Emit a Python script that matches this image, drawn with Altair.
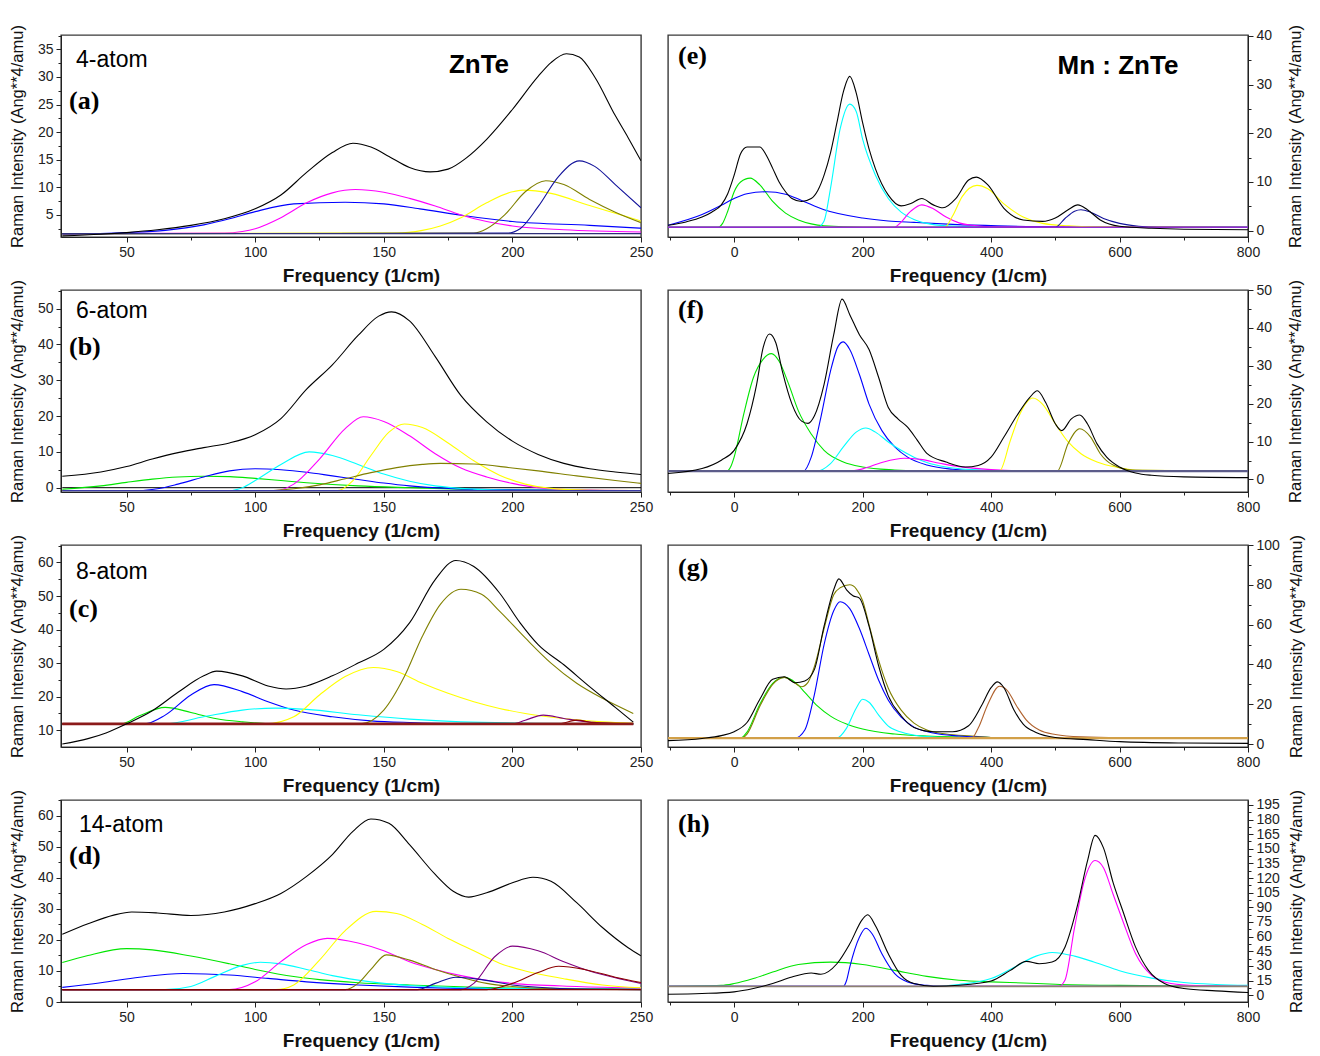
import altair as alt
import pandas as pd

# ---------------- data ----------------
# (a) ZnTe 4-atom
A_SUM = [(25,1.2),(40,1.5),(50,1.8),(62,2.3),(75,3.1),(88,4.3),(100,6.1),(110,8.6),(120,12.7),(130,16.3),(138,18.0),(145,17.3),(152,15.6),(160,13.6),(168,12.8),(175,13.3),(182,15.3),(190,18.7),(200,24.1),(210,30.1),(215,32.6),(221,34.2),(226,33.6),(232,30.0),(240,23.0),(245,19.0),(250,14.8)]
A_BLUE = [(25,1.5),(50,1.8),(65,2.2),(80,3.2),(90,4.3),(100,5.6),(115,7.0),(135,7.3),(150,7.0),(164,6.1),(181,4.9),(200,3.8),(230,3.1),(250,2.6)]
A_MAGENTA = [(25,1.6),(88,1.7),(95,2.0),(100,2.5),(110,4.5),(120,7.2),(130,9.0),(139,9.6),(150,9.1),(160,8.0),(170,6.6),(180,5.0),(190,3.8),(200,3.0),(220,2.3),(250,1.9)]
A_YELLOW = [(25,1.6),(155,1.7),(165,2.2),(172,3.0),(180,4.5),(190,7.2),(200,9.2),(204,9.5),(215,8.9),(230,6.7),(240,5.3),(250,3.9)]
A_OLIVE = [(25,1.6),(185,1.7),(190,2.5),(197,5.0),(205,9.2),(213,11.2),(220,10.5),(230,7.8),(240,5.5),(250,3.6)]
A_NAVY = [(25,1.6),(198,1.7),(203,2.5),(210,6.5),(218,12.0),(226,14.8),(232,13.8),(240,10.5),(250,6.3)]
A_BASE = [(25,1.6),(250,1.6)]

# (b) ZnTe 6-atom
B_SUM = [(25,3.2),(40,4.4),(50,5.9),(60,8.0),(70,9.8),(80,11.2),(90,12.5),(100,14.8),(110,19.3),(120,27.5),(130,34.3),(140,42.5),(148,47.9),(153,49.1),(160,46.6),(170,36.6),(180,25.7),(190,18.4),(200,13.0),(210,9.3),(220,6.8),(230,5.3),(240,4.4),(250,3.7)]
B_GREEN = [(25,-0.45),(40,0.5),(50,1.5),(60,2.4),(70,3.0),(80,3.2),(90,3.1),(100,2.6),(110,2.0),(120,1.4),(130,0.9),(140,0.5),(160,0.0),(180,-0.4),(220,-0.7),(250,-0.8)]
B_BLUE = [(25,-0.8),(55,-0.8),(62,-0.3),(70,1.0),(80,3.0),(90,4.7),(100,5.3),(110,5.0),(120,4.3),(130,3.3),(140,2.3),(150,1.3),(160,0.5),(175,-0.2),(200,-0.6),(250,-0.8)]
B_CYAN = [(25,-0.8),(90,-0.8),(95,0.0),(100,2.0),(110,6.5),(121,10.0),(130,9.0),(140,6.5),(150,3.8),(160,1.8),(170,0.5),(185,-0.4),(200,-0.7),(250,-0.8)]
B_MAGENTA = [(25,-0.8),(108,-0.8),(115,1.0),(125,8.0),(135,16.5),(142,19.8),(150,18.5),(160,14.5),(170,9.5),(180,5.5),(190,3.0),(200,1.2),(210,0.0),(225,-0.6),(250,-0.8)]
B_YELLOW = [(25,-0.8),(132,-0.8),(138,2.0),(145,9.0),(152,15.5),(158,17.8),(165,16.8),(175,12.5),(185,7.5),(195,3.5),(205,1.0),(215,-0.2),(230,-0.7),(250,-0.8)]
B_OLIVE = [(25,-0.8),(105,-0.8),(115,-0.3),(125,0.8),(135,2.5),(145,4.2),(155,5.6),(165,6.5),(172,6.8),(185,6.6),(200,5.5),(210,4.7),(225,3.3),(240,2.0),(250,1.2)]
B_BASE = [(25,-0.8),(250,-0.8)]
B_ZERO = [(25,0.0),(250,0.0)]

# (c) ZnTe 8-atom
C_SUM = [(25,5.9),(35,7.5),(42,9.2),(50,11.9),(60,15.8),(70,21.3),(80,26.2),(85,27.6),(95,26.2),(105,23.2),(112,22.3),(120,23.2),(130,26.2),(140,30.0),(150,34.1),(160,42.0),(170,54.9),(178,60.6),(185,58.8),(195,50.9),(203,42.0),(210,35.5),(220,29.5),(230,23.0),(240,16.8),(247,12.4)]
C_GREEN = [(25,11.9),(48,11.9),(55,14.3),(65,16.8),(75,15.3),(85,13.4),(95,12.5),(105,12.0),(247,11.9)]
C_BLUE = [(25,11.9),(57,11.9),(65,14.5),(75,20.5),(84,23.6),(95,21.5),(105,18.5),(115,16.0),(130,14.0),(145,12.8),(160,12.3),(180,12.0),(247,11.9)]
C_CYAN = [(25,11.9),(65,11.9),(80,14.0),(95,16.0),(108,16.6),(120,16.2),(140,14.6),(160,13.3),(180,12.5),(210,12.1),(247,11.9)]
C_YELLOW = [(25,11.9),(104,11.9),(115,14.0),(125,20.5),(135,26.0),(146,28.7),(155,27.5),(165,24.0),(175,21.0),(185,18.5),(195,16.5),(205,15.0),(220,13.5),(235,12.5),(247,12.1)]
C_OLIVE = [(25,11.9),(141,11.9),(150,16.0),(158,26.0),(165,38.0),(172,47.5),(180,52.0),(188,50.5),(195,45.5),(205,37.5),(215,30.0),(225,24.0),(235,19.5),(247,15.0)]
C_PURPLE = [(25,11.9),(200,11.9),(205,13.0),(212,14.5),(220,13.5),(230,12.4),(240,12.0),(247,11.9)]
C_MAROON = [(25,11.9),(218,11.9),(225,13.0),(232,12.2),(247,11.9)]
C_BASE = [(25,11.9),(247,11.9)]

# (d) ZnTe 14-atom
D_SUM = [(25,21.8),(35,25.2),(45,28.0),(52,29.0),(62,28.7),(75,27.9),(88,29.0),(100,31.7),(110,35.0),(120,40.5),(130,47.5),(138,55.0),(145,59.0),(152,57.6),(160,50.7),(170,41.1),(177,35.7),(183,33.8),(190,35.2),(200,38.4),(208,40.2),(215,38.9),(225,32.0),(235,24.0),(245,17.5),(250,14.9)]
D_GREEN = [(25,12.7),(35,15.0),(50,17.2),(60,16.8),(75,14.8),(90,12.3),(100,10.5),(115,8.2),(125,7.2),(140,6.2),(160,5.5),(180,4.9),(200,4.5),(250,4.2)]
D_BLUE = [(25,4.7),(40,6.2),(55,8.0),(72,9.2),(90,8.7),(105,7.6),(120,6.5),(140,5.5),(160,4.8),(180,4.4),(250,4.1)]
D_CYAN = [(25,4.0),(65,4.0),(75,5.0),(85,8.5),(95,11.8),(102,12.8),(110,12.3),(120,10.5),(130,8.5),(145,6.5),(160,5.3),(180,4.6),(200,4.3),(250,4.1)]
D_MAGENTA = [(25,4.0),(90,4.0),(100,6.5),(110,13.0),(120,18.5),(128,20.5),(140,19.0),(150,16.5),(160,13.0),(170,10.5),(180,8.5),(190,7.0),(200,6.0),(225,5.0),(250,4.5)]
D_YELLOW = [(25,4.0),(108,4.0),(115,5.5),(125,13.5),(135,23.0),(147,29.2),(155,28.5),(165,25.0),(175,20.5),(185,16.5),(195,12.5),(205,10.0),(220,7.5),(235,5.5),(250,4.6)]
D_OLIVE = [(25,4.0),(135,4.0),(140,6.0),(145,10.5),(151,15.2),(160,13.5),(170,10.5),(180,8.0),(190,6.0),(200,5.0),(215,4.3),(250,4.0)]
D_NAVY = [(25,4.0),(163,4.0),(170,6.0),(178,8.0),(188,7.2),(200,5.5),(215,4.5),(230,4.1),(250,4.0)]
D_PURPLE = [(25,4.0),(180,4.0),(185,6.0),(193,14.5),(200,18.0),(210,16.5),(220,13.0),(230,10.0),(240,7.8),(250,6.0)]
D_MAROON = [(25,4.0),(190,4.0),(200,6.0),(210,9.5),(218,11.5),(228,10.5),(240,8.0),(250,6.3)]
D_BASE = [(25,4.0),(250,4.0)]

# (e) Mn:ZnTe
E_SUM = [(-103,1.1),(-75,1.8),(-50,2.8),(-35,3.8),(-20,5.3),(-10,7.6),(0,11.4),(10,15.8),(20,17.2),(40,17.2),(50,15.5),(60,12.8),(70,10.0),(80,8.0),(90,6.6),(105,6.0),(120,6.6),(130,8.2),(140,11.4),(150,16.0),(160,22.2),(170,28.5),(180,31.7),(190,28.3),(200,22.2),(210,16.8),(220,12.7),(240,7.3),(260,5.1),(275,5.6),(292,6.6),(310,5.3),(325,4.7),(345,6.6),(365,10.4),(377,11.0),(395,9.4),(420,4.6),(450,2.2),(480,1.9),(500,2.6),(520,4.3),(535,5.3),(550,4.3),(570,2.2),(600,0.9),(650,0.5),(700,0.3),(800,0.2)]
E_GREEN = [(-103,0.7),(-25,0.7),(-18,1.5),(-10,4.0),(0,8.0),(10,10.0),(25,10.8),(40,9.4),(60,6.0),(80,3.6),(100,2.2),(120,1.4),(140,1.0),(200,0.7),(800,0.7)]
E_BLUE = [(-103,1.1),(-50,3.3),(-20,5.2),(0,6.6),(20,7.6),(50,8.0),(80,7.5),(105,6.2),(140,4.3),(200,2.6),(240,2.0),(280,1.7),(340,1.3),(410,1.0),(500,0.8),(800,0.7)]
E_CYAN = [(-103,0.7),(130,0.7),(140,2.0),(150,8.7),(165,20.9),(180,26.0),(190,24.5),(200,18.8),(220,11.4),(240,6.6),(260,3.8),(280,2.3),(300,1.5),(330,1.0),(400,0.7),(800,0.7)]
E_MAGENTA = [(-103,0.7),(250,0.7),(258,1.5),(275,4.0),(292,5.3),(310,4.5),(330,2.8),(350,1.6),(370,1.1),(400,0.8),(800,0.7)]
E_YELLOW = [(-103,0.7),(328,0.7),(340,3.0),(355,7.0),(378,9.3),(395,8.6),(420,5.5),(450,2.8),(480,1.5),(520,1.0),(560,0.8),(800,0.7)]
E_NAVY = [(-103,0.7),(500,0.7),(515,2.5),(530,4.0),(540,4.3),(555,3.8),(575,2.5),(600,1.5),(630,0.9),(660,0.7),(800,0.7)]
E_BASE = [(-103,0.7),(800,0.7)]

# (f) Mn:ZnTe
F_SUM = [(-103,1.6),(-50,2.9),(-20,5.1),(0,7.7),(20,14.7),(35,25.1),(45,34.7),(55,38.4),(65,36.0),(75,28.6),(90,19.9),(105,15.4),(115,14.8),(125,16.8),(140,25.1),(155,38.2),(168,47.6),(180,43.5),(195,38.2),(210,34.3),(225,26.9),(240,19.0),(255,16.0),(270,13.8),(285,10.4),(300,6.9),(330,4.6),(360,3.3),(380,3.7),(400,5.9),(420,11.2),(440,16.8),(460,21.6),(472,23.4),(485,20.3),(500,14.7),(510,12.9),(525,16.0),(538,17.0),(550,14.7),(565,9.4),(580,5.9),(600,3.3),(625,1.7),(650,1.1),(700,0.7),(800,0.5)]
F_GREEN = [(-103,2.2),(-12,2.2),(-5,3.5),(0,5.9),(15,17.3),(30,26.9),(45,31.7),(58,33.2),(70,31.2),(85,25.1),(100,18.1),(120,12.0),(140,7.7),(170,4.6),(200,3.3),(250,2.5),(300,2.2),(800,2.2)]
F_BLUE = [(-103,2.2),(108,2.2),(120,5.9),(135,16.4),(150,28.6),(162,35.2),(170,36.3),(180,34.3),(195,27.7),(210,19.9),(230,12.9),(250,8.6),(270,5.9),(300,3.8),(340,2.7),(380,2.3),(800,2.2)]
F_CYAN = [(-103,2.2),(128,2.2),(150,4.2),(170,8.6),(190,12.5),(205,13.6),(220,12.5),(240,9.9),(260,7.7),(280,5.9),(300,4.5),(330,3.3),(370,2.6),(420,2.3),(800,2.2)]
F_MAGENTA = [(-103,2.2),(180,2.2),(200,2.8),(230,4.5),(265,5.6),(290,5.3),(320,4.3),(350,3.4),(400,2.6),(450,2.3),(800,2.2)]
F_YELLOW = [(-103,2.2),(413,2.2),(430,10.3),(445,17.3),(465,21.5),(480,19.9),(500,14.7),(520,9.9),(540,6.8),(565,4.6),(600,3.1),(630,2.4),(800,2.2)]
F_OLIVE = [(-103,2.2),(503,2.2),(520,9.5),(538,13.4),(555,11.2),(570,6.8),(590,3.8),(620,2.5),(800,2.2)]
F_BASE = [(-103,2.2),(800,2.2)]

# (g) Mn:ZnTe
G_SUM = [(-103,1.7),(-50,2.8),(-20,4.2),(0,6.2),(20,10.8),(40,22.5),(60,32.5),(78,33.8),(95,30.8),(110,31.7),(125,37.5),(140,59.2),(155,77.5),(163,83.0),(175,77.5),(185,74.5),(195,73.3),(210,59.2),(225,39.2),(240,24.2),(260,14.2),(280,8.3),(310,6.2),(340,6.2),(365,9.2),(385,19.2),(400,28.3),(410,31.2),(420,28.3),(435,17.5),(450,10.0),(470,5.8),(500,3.3),(550,2.2),(600,1.2),(700,0.5),(800,0.3)]
G_GREEN = [(-103,3.0),(10,3.0),(20,6.0),(40,20.0),(60,30.5),(78,33.5),(95,31.0),(110,26.0),(130,19.0),(150,14.0),(175,10.0),(200,7.5),(250,5.0),(300,4.0),(400,3.3),(500,3.1),(800,3.0)]
G_OLIVE = [(-103,3.0),(12,3.0),(20,5.0),(40,19.0),(60,30.0),(78,33.5),(95,30.5),(105,28.8),(115,31.0),(125,39.0),(140,58.0),(155,75.0),(165,78.5),(180,80.0),(190,78.0),(200,72.0),(210,60.0),(225,42.0),(240,28.0),(260,17.0),(280,10.5),(300,7.0),(330,5.0),(370,4.0),(400,3.3),(800,3.0)]
G_BLUE = [(-103,3.0),(95,3.0),(110,7.0),(125,25.0),(140,50.0),(155,67.0),(165,71.5),(180,68.0),(195,58.0),(210,45.0),(225,32.0),(240,22.0),(260,13.5),(280,8.5),(310,5.5),(350,4.0),(400,3.3),(800,3.0)]
G_CYAN = [(-103,3.0),(160,3.0),(175,8.0),(190,18.0),(200,22.5),(210,21.0),(225,14.5),(240,9.0),(260,6.0),(290,4.0),(330,3.3),(800,3.0)]
G_SIENNA = [(-103,3.0),(370,3.0),(380,8.0),(395,20.0),(413,29.0),(425,27.0),(440,19.0),(455,12.0),(475,7.0),(500,4.8),(540,3.6),(600,3.2),(800,3.0)]
G_BASE = [(-103,3.0),(800,3.0)]

# (h) Mn:ZnTe
H_SUM = [(-103,1.0),(-50,1.7),(0,3.4),(30,6.8),(60,11.9),(90,18.6),(120,22.7),(135,21.4),(160,32.2),(180,52.6),(200,78.0),(208,82.4),(220,71.2),(240,42.4),(260,20.3),(280,11.9),(310,9.2),(350,10.2),(400,14.6),(430,25.4),(455,34.6),(475,32.2),(495,33.9),(515,49.2),(535,93.3),(550,137.3),(562,163.8),(575,150.9),(590,115.3),(605,86.5),(625,49.2),(645,25.4),(670,11.9),(700,6.8),(750,4.4),(800,2.7)]
H_GREEN = [(-103,9.2),(-20,10.0),(0,11.9),(30,17.0),(60,23.7),(100,31.5),(150,33.9),(200,31.5),(250,25.4),(300,19.3),(350,15.3),(400,13.6),(450,12.5),(500,11.2),(600,10.0),(700,9.4),(800,9.2)]
H_BLUE = [(-103,9.0),(170,9.0),(175,15.0),(180,28.8),(195,59.3),(205,68.5),(215,62.7),(230,42.4),(250,22.0),(270,13.6),(300,10.0),(320,9.2),(800,9.0)]
H_CYAN = [(-103,9.0),(300,9.0),(350,11.0),(400,17.0),(440,30.0),(470,40.0),(495,43.8),(530,40.0),(560,34.0),(600,25.0),(650,17.5),(700,13.0),(750,11.0),(800,10.0)]
H_MAGENTA = [(-103,9.0),(505,9.0),(515,15.3),(530,69.5),(545,117.0),(562,138.0),(575,130.6),(590,103.4),(605,76.3),(625,42.4),(650,20.3),(680,12.0),(720,9.8),(800,9.0)]
H_BASE = [(-103,9.0),(800,9.0)]

# ---------------- styling ----------------
COLORS = {
    "sum": "#000000", "blue": "#0000ff", "navy": "#12129a", "magenta": "#ff00ff",
    "yellow": "#ffff00", "olive": "#808000", "green": "#00e600", "cyan": "#00ffff",
    "purple": "#800080", "maroon": "#8b0000", "sienna": "#b0622e",
    "zero": "#000000",
    "base_a": "#30307a", "base_b": "#3a3aa8", "base_c": "#8b1a1a", "base_d": "#800000",
    "base_e": "#8e2bd0", "base_f": "#5c5c8a", "base_g": "#d2a048", "base_h": "#8c8070",
}
C_DOMAIN = list(COLORS.keys())
C_RANGE = list(COLORS.values())

FONT = "Liberation Sans"
W, H = 580, 202
X_LEFT = [24.5, 250]
X_RIGHT = [-103, 800]
XT_LEFT = [50, 75, 100, 125, 150, 175, 200, 225, 250]
XT_RIGHT = [-100, 0, 100, 200, 300, 400, 500, 600, 700, 800]


def frange(a, b, step):
    out, v = [], a
    while v <= b + 1e-9:
        out.append(round(v, 4))
        v += step
    return out


def to_df(series):
    rows = []
    for name, pts in series.items():
        for i, (x, y) in enumerate(pts):
            rows.append({"s": name, "i": i, "x": x, "y": y})
    return pd.DataFrame(rows)


def panel(series, base_name, base_w, xdom, xticks, xmaj, ydom, yticks, ymaj,
          orient, notes, tpad):
    df = to_df(series)
    xs = alt.Scale(domain=xdom, nice=False, zero=False)
    ys = alt.Scale(domain=ydom, nice=False, zero=False)
    xaxis = alt.Axis(
        values=xticks, labelExpr=f"datum.value % {xmaj} === 0 ? datum.label : ''",
        tickSize={"condition": {"test": f"datum.value % {xmaj} === 0", "value": 5}, "value": 3},
        title="Frequency (1/cm)", titleFontSize=19, titleFontWeight="bold",
        titlePadding=7, titleX=W / 2 + 10, labelFontSize=14, labelPadding=3, grid=False,
        labelFlush=False,
    )
    yargs = dict(
        values=yticks, labelExpr=f"datum.value % {ymaj} === 0 ? datum.label : ''",
        tickSize={"condition": {"test": f"datum.value % {ymaj} === 0", "value": 5}, "value": 3},
        title="Raman Intensity (Ang**4/amu)", titleFontSize=16.5, titleFontWeight="normal",
        titlePadding=tpad, labelFontSize=14, labelPadding=3, grid=False, orient=orient,
        labelFlush=False,
    )
    if orient == "right":
        yargs["titleAngle"] = 270
        yargs["titleBaseline"] = "top"
    yaxis = alt.Axis(**yargs)
    enc = dict(
        x=alt.X("x:Q", scale=xs, axis=xaxis),
        y=alt.Y("y:Q", scale=ys, axis=yaxis),
        color=alt.Color("s:N", scale=alt.Scale(domain=C_DOMAIN, range=C_RANGE), legend=None),
        order=alt.Order("i:Q"),
    )
    base = alt.Chart(df)
    layers = [
        base.transform_filter(f"datum.s === 'zero'")
        .mark_line(strokeWidth=1, clip=True).encode(**enc),
        base.transform_filter(f"datum.s !== 'sum' && datum.s !== 'zero' && datum.s !== '{base_name}'")
        .mark_line(interpolate="monotone", strokeWidth=1.1, clip=True).encode(**enc),
        base.transform_filter(f"datum.s === '{base_name}'")
        .mark_line(strokeWidth=base_w, clip=True).encode(**enc),
        base.transform_filter("datum.s === 'sum'")
        .mark_line(interpolate="monotone", strokeWidth=1.1, clip=True).encode(**enc),
    ]
    for n in notes:
        layers.append(
            alt.Chart(alt.Data(values=[{"t": n["text"]}]))
            .mark_text(font=n.get("font", FONT), fontSize=n["size"],
                       fontWeight=n.get("weight", "normal"), align=n.get("align", "left"),
                       baseline="middle", color="#000")
            .encode(x=alt.value(n["x"]), y=alt.value(n["y"]), text="t:N")
        )
    return alt.layer(*layers).properties(width=W, height=H)


def lab(text, x, y):
    return {"text": text, "x": x, "y": y, "size": 26, "weight": "bold", "font": "Liberation Serif"}


def atom(text, x, y):
    return {"text": text, "x": x, "y": y, "size": 23}


def title(text, x, y):
    return {"text": text, "x": x, "y": y, "size": 26, "weight": "bold", "align": "center"}


pa = panel({"base_a": A_BASE, "blue": A_BLUE, "magenta": A_MAGENTA, "yellow": A_YELLOW,
            "olive": A_OLIVE, "navy": A_NAVY, "sum": A_SUM}, "base_a", 1.2,
           X_LEFT, XT_LEFT, 50, [1, 37.6], frange(2.5, 37.5, 2.5), 5, "left",
           [atom("4-atom", 15, 25), lab("(a)", 8, 66), title("ZnTe", 418, 30)], 12)
pe = panel({"base_e": E_BASE, "green": E_GREEN, "blue": E_BLUE, "cyan": E_CYAN,
            "magenta": E_MAGENTA, "yellow": E_YELLOW, "navy": E_NAVY, "sum": E_SUM}, "base_e", 1.4,
           X_RIGHT, XT_RIGHT, 200, [-1.3, 40.2], frange(0, 40, 5), 10, "right",
           [lab("(e)", 10, 21), title("Mn : ZnTe", 450, 31)], 16)
pb = panel({"base_b": B_BASE, "zero": B_ZERO, "green": B_GREEN, "blue": B_BLUE, "cyan": B_CYAN,
            "magenta": B_MAGENTA, "yellow": B_YELLOW, "olive": B_OLIVE, "sum": B_SUM}, "base_b", 1.2,
           X_LEFT, XT_LEFT, 50, [-1.2, 55.2], frange(0, 55, 5), 10, "left",
           [atom("6-atom", 15, 21), lab("(b)", 8, 57)], 12)
pf = panel({"base_f": F_BASE, "green": F_GREEN, "blue": F_BLUE, "cyan": F_CYAN,
            "magenta": F_MAGENTA, "yellow": F_YELLOW, "olive": F_OLIVE, "sum": F_SUM}, "base_f", 2.2,
           X_RIGHT, XT_RIGHT, 200, [-3.3, 50], frange(0, 50, 5), 10, "right",
           [lab("(f)", 10, 20)], 16)
pc = panel({"base_c": C_BASE, "green": C_GREEN, "blue": C_BLUE, "cyan": C_CYAN,
            "yellow": C_YELLOW, "olive": C_OLIVE, "purple": C_PURPLE, "maroon": C_MAROON,
            "sum": C_SUM}, "base_c", 2.6,
           X_LEFT, XT_LEFT, 50, [5, 65.2], frange(10, 65, 5), 10, "left",
           [atom("8-atom", 15, 27), lab("(c)", 8, 64)], 12)
pg = panel({"base_g": G_BASE, "green": G_GREEN, "olive": G_OLIVE, "blue": G_BLUE,
            "cyan": G_CYAN, "sienna": G_SIENNA, "sum": G_SUM}, "base_g", 2.2,
           X_RIGHT, XT_RIGHT, 200, [-1.5, 100], frange(0, 100, 10), 20, "right",
           [lab("(g)", 10, 23)], 9)
pd_ = panel({"base_d": D_BASE, "green": D_GREEN, "blue": D_BLUE, "cyan": D_CYAN,
             "magenta": D_MAGENTA, "yellow": D_YELLOW, "olive": D_OLIVE, "navy": D_NAVY,
             "purple": D_PURPLE, "maroon": D_MAROON, "sum": D_SUM}, "base_d", 1.2,
            X_LEFT, XT_LEFT, 50, [0, 65.1], frange(0, 65, 5), 10, "left",
            [atom("14-atom", 18, 25), lab("(d)", 8, 56)], 12)
ph = panel({"base_h": H_BASE, "green": H_GREEN, "blue": H_BLUE, "cyan": H_CYAN,
            "magenta": H_MAGENTA, "sum": H_SUM}, "base_h", 1.6,
           X_RIGHT, XT_RIGHT, 200, [-7, 200], frange(0, 195, 7.5), 15, "right",
           [lab("(h)", 10, 24)], 9)

chart = (
    alt.concat(pa, pe, pb, pf, pc, pg, pd_, ph, columns=2,
               spacing={"row": 53, "column": 27}, bounds="flush")
    .properties(padding={"left": 0, "top": 15, "right": 2, "bottom": 0}, background="white")
    .configure_view(stroke="#3a3a3a", strokeWidth=1.4)
    .configure_axis(labelFont=FONT, titleFont=FONT, domainColor="#222", tickColor="#222",
                    labelColor="#222", titleColor="#111", domainWidth=1, tickWidth=1)
)

chart.save("out.html", embed_options={"renderer": "svg", "actions": False})
